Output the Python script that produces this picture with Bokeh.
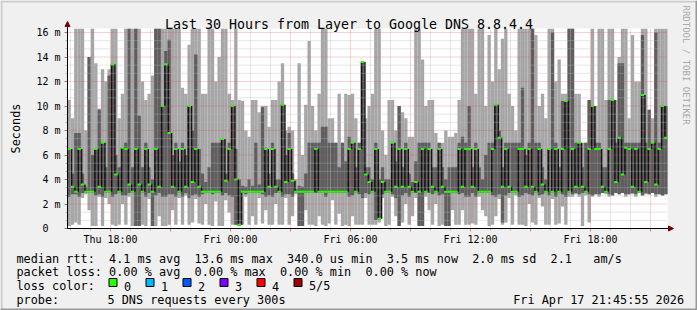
from math import pi
from bokeh.plotting import figure
from bokeh.models import (FixedTicker, Arrow, NormalHead, ColumnDataSource, Range1d,
                          LinearAxis)
from bokeh.core.properties import value
from bokeh.embed import file_html
from bokeh.resources import INLINE

# ---------------- data (ms), 10-minute bins starting Thu 15:51 ----------------
start_hour = 15.85          # hours since Thu 00:00 at the left edge of the graph
bin_hours = 1 / 6
span_hours = 30

median_ms = [
    6.5,3.4,3.0,6.5,3.6,3.0,3.0,3.0,6.5,3.4, 7.0,3.0,3.0,13.4,4.4,3.0,6.6,6.5,3.6,3.0,
    6.5,3.6,3.0,6.5,3.6,3.0,6.5,3.4,10.0,13.4,
    7.8,3.4,6.5,3.0,6.5,3.4,10.0,3.8,6.5,3.4, 3.0,3.0,3.0,3.0,3.0,3.0,7.3,3.9,6.5,10.0,
    4.0,0.3,3.0,3.0,3.0,3.0,3.0,3.0,3.0,6.5,
    3.4,6.5,3.4,3.0,10.1,3.8,6.5,3.9,3.0,3.0, 3.0,3.0,3.0,3.0,6.5,3.0,3.0,3.0,3.0,3.0,
    3.0,3.0,3.0,3.0,6.5,7.0,3.0,6.5,13.6,4.4,
    3.8,3.0,6.5,0.8,3.8,3.0,3.0,7.0,3.4,6.5, 3.4,6.5,3.4,3.0,3.8,3.0,6.5,3.0,6.5,3.4,
    3.0,6.5,3.4,3.0,3.0,3.0,3.0,6.5,3.4,6.5,
    6.5,3.4,6.5,3.0,3.0,3.0,3.0,6.5,10.1,7.4, 3.4,6.5,3.4,3.0,3.0,6.5,6.5,3.4,6.5,3.4,
    3.0,6.5,3.6,3.0,6.5,3.0,6.5,3.0,6.5,10.4,
    3.0,6.5,3.4,7.0,3.4,3.0,6.5,10.0,6.5,6.5, 3.4,3.0,6.5,10.5,3.8,7.4,4.4,6.6,6.5,3.4,
    6.5,3.0,10.9,3.8,6.5,7.0,3.6,6.5,10.0,7.4,
]
smoke_top_ms = [
    10.5,9.0,16.3,16.3,16.3,8.0,14.0,16.3,13.5,9.8, 13.0,12.0,13.0,16.3,16.3,9.0,11.0,16.3,16.3,16.3,
    16.3,16.3,12.0,10.5,11.0,12.5,16.3,16.3,16.3,16.3,
    16.3,16.3,16.3,16.3,11.5,11.0,15.0,16.3,16.3,16.3, 11.0,11.0,16.3,16.3,12.0,14.0,16.3,16.3,11.0,10.5,
    16.3,10.5,10.4,8.0,7.5,10.5,10.5,9.5,10.0,10.0,
    8.3,10.5,10.5,12.0,13.5,8.0,8.3,8.0,4.0,13.5, 6.0,10.1,15.3,10.0,8.0,11.0,16.3,16.3,9.0,9.0,
    7.0,11.0,7.0,11.0,10.9,11.0,9.0,7.0,13.6,9.0,
    10.0,11.0,16.3,16.3,8.0,6.0,10.5,10.5,8.0,10.0, 9.5,9.0,7.5,7.5,16.3,16.3,13.8,10.0,10.5,10.5,
    7.8,7.0,7.0,8.0,7.5,7.5,7.8,10.5,16.3,16.3,
    16.3,16.3,11.0,16.3,16.3,10.0,15.8,12.0,16.3,13.0, 15.5,16.3,11.0,10.0,8.0,16.3,16.3,16.3,16.3,16.3,
    15.8,10.0,11.0,9.0,16.3,16.3,12.0,13.8,11.0,11.0,
    16.3,16.3,11.0,11.0,7.0,7.0,10.5,16.3,10.0,16.3, 16.3,10.5,16.3,16.3,10.5,14.0,16.3,16.3,9.0,15.8,
    12.0,12.0,16.3,16.3,9.7,9.0,16.3,16.3,16.3,16.3,
]
smoke_bot_ms = [
    0.2,0.3,0.5,0.3,2.5,2.8,1.5,0.2,0.2,2.6, 0.2,2.5,2.0,0.3,0.2,0.3,2.0,0.3,2.6,0.2,
    0.2,0.2,0.3,0.2,2.4,0.2,0.2,1.0,0.2,0.2,
    0.3,1.5,0.3,2.5,0.3,2.7,0.3,0.5,2.4,0.4, 0.3,2.0,0.3,0.2,2.2,0.2,0.2,2.3,1.3,0.3,
    0.3,0.2,0.3,2.6,0.3,1.0,0.3,2.5,0.4,1.5,
    0.3,0.3,2.0,0.3,0.3,2.5,0.3,1.0,2.8,0.2, 0.2,1.5,0.3,0.3,0.2,1.0,0.3,0.2,0.4,2.3,
    0.3,1.2,0.2,0.3,0.2,1.0,0.3,0.3,0.3,2.5,
    0.3,0.3,0.3,0.5,2.5,0.2,0.3,2.6,1.0,0.2, 0.5,2.0,0.3,1.0,2.5,0.3,0.2,2.6,1.5,0.3,
    2.0,0.2,0.3,2.5,0.2,1.5,0.3,0.3,1.5,0.3,
    0.3,0.4,0.3,2.6,1.5,1.0,0.2,0.3,1.0,2.4, 0.3,0.5,2.5,0.3,2.7,0.3,0.3,0.2,2.0,0.5,
    0.3,2.5,1.8,0.3,0.3,2.4,0.3,0.4,1.8,0.3,
    2.6,2.6,2.8,2.6,0.2,2.7,0.5,2.6,2.8,2.6, 2.9,2.8,2.6,2.7,2.9,2.8,2.9,2.6,2.8,2.8,
    2.6,2.9,2.7,2.8,2.8,2.9,2.6,2.8,2.7,2.8,
]
core_top_ms = [
    6.5,4.5,7.8,7.8,4.5,3.4,14.0,6.0,6.5,9.7, 7.0,5.0,12.5,13.4,6.0,5.0,6.6,7.0,16.3,5.0,
    16.3,9.2,5.0,7.0,5.0,4.0,16.3,16.3,10.0,14.5,
    15.4,6.0,7.0,5.5,7.0,6.0,10.0,8.0,14.2,6.5, 4.5,3.8,5.0,7.0,7.0,7.0,7.3,4.5,7.0,10.0,
    6.5,4.0,3.5,3.4,4.0,3.5,7.0,3.6,9.9,6.6,
    4.5,7.0,4.0,4.0,10.1,6.0,7.8,4.5,3.2,3.5, 3.4,4.5,7.0,7.0,7.0,7.0,8.3,8.3,7.0,7.0,
    7.0,5.0,7.0,5.5,7.5,7.0,5.0,7.0,13.6,5.0,
    5.0,4.0,7.0,4.0,5.0,4.0,4.0,7.0,5.5,10.0, 5.0,7.0,4.5,3.8,5.5,7.0,7.0,7.0,7.0,5.0,
    5.0,7.0,5.0,4.0,5.0,5.0,5.0,7.0,7.5,7.0,
    10.0,5.0,7.0,5.0,4.0,6.0,7.0,7.0,10.1,8.0, 5.0,7.0,7.0,7.0,7.0,7.0,11.5,6.0,7.0,16.3,
    7.0,7.0,5.0,4.0,6.5,16.0,7.0,5.0,10.4,10.4,
    16.3,16.3,7.0,7.0,5.0,7.0,10.5,10.0,7.0,7.0, 5.0,5.0,10.5,10.5,7.0,13.5,13.5,7.0,7.0,7.0,
    7.0,7.0,15.8,7.0,9.7,7.0,16.0,7.0,10.0,10.0,
]
core_bot_ms = [
    2.6,2.8,2.8,2.6,2.9,2.9,2.9,2.9,2.7,2.8, 2.6,2.9,2.9,2.6,2.8,2.9,2.7,2.7,2.9,2.9,
    0.2,0.2,2.9,2.6,2.9,0.2,2.7,2.9,2.6,2.6,
    2.8,2.8,2.6,2.9,2.6,2.9,2.5,2.7,2.8,2.6, 2.8,2.9,2.9,2.8,2.9,2.9,2.7,2.9,2.7,2.6,
    0.3,0.2,2.9,2.8,2.9,2.9,2.9,2.9,2.8,2.6,
    2.7,2.6,2.9,2.9,2.6,2.8,2.8,2.6,2.9,0.2, 0.2,2.9,2.9,2.9,2.9,2.9,2.9,2.6,2.9,2.9,
    2.9,2.9,2.9,2.9,2.6,2.7,2.9,2.8,2.5,2.9,
    2.8,2.9,0.7,0.7,2.8,2.9,2.9,2.8,2.5,0.2, 2.7,2.9,2.6,2.9,2.9,0.2,0.2,2.9,2.9,2.8,
    2.9,2.7,2.8,0.2,0.2,2.9,2.9,2.8,2.9,2.6,
    2.6,2.9,2.6,2.9,2.9,2.9,2.9,2.7,2.6,2.8, 0.5,2.7,2.9,2.9,2.9,2.6,2.7,2.9,2.8,2.7,
    2.9,2.7,2.8,2.9,2.7,2.9,2.6,2.9,2.8,2.6,
    2.9,2.8,2.9,2.8,2.9,2.9,2.8,2.7,2.8,2.8, 2.9,2.9,2.8,2.7,2.9,2.8,2.9,2.8,2.8,2.9,
    2.8,2.9,2.7,2.9,2.8,2.9,2.8,2.8,2.7,2.8,
]

y_ticks_ms = [0, 2, 4, 6, 8, 10, 12, 14, 16]
y_tick_labels = ["0  ", "2 m", "4 m", "6 m", "8 m", "10 m", "12 m", "14 m", "16 m"]
x_label_hours = [18, 24, 30, 36, 42]
x_tick_labels = ["Thu 18:00", "Fri 00:00", "Fri 06:00", "Fri 12:00", "Fri 18:00"]

title_text = "Last 30 Hours from Layer to Google DNS 8.8.4.4"
y_title = "Seconds"
watermark = "RRDTOOL / TOBI OETIKER"
legend_lines = [
    "median rtt:  4.1 ms avg  13.6 ms max  340.0 us min  3.5 ms now  2.0 ms sd  2.1   am/s",
    "packet loss: 0.00 % avg  0.00 % max  0.00 % min  0.00 % now",
]
loss_title = "loss color:"
loss_labels = ["0", "1", "2", "3", "4", "5/5"]
loss_colors = ["#26ff00", "#00b8ff", "#0059ff", "#7e00ff", "#ff0000", "#a10000"]
probe_title = "probe:"
probe_text = "5 DNS requests every 300s"
stamp = "Fri Apr 17 21:45:55 2026"

# ---------------- layout (pixel geometry of the rrdtool canvas) ----------------
W, H = 697, 310
FL, FR, FT, FB = 67, 667, 28, 228
px_per_ms = 12.25
y_top = (FB - FT) / px_per_ms
end_hour = start_hour + span_hours
MONO = "DejaVu Sans Mono"
NB = "\u00a0"


def sx(px):
    return start_hour + (px - FL) * span_hours / (FR - FL)


def sy(py):
    return (FB - py) / px_per_ms


p = figure(width=W, height=H, output_backend="svg", toolbar_location=None,
           x_range=Range1d(sx(0), sx(W)), y_range=Range1d(sy(H), sy(0)),
           x_axis_location=None, y_axis_location=None,
           min_border_left=0, min_border_right=0, min_border_top=0, min_border_bottom=0,
           background_fill_color="#f0f0f0", border_fill_color="#f0f0f0",
           outline_line_color=None)
p.title.visible = False
p.grid.visible = False

# canvas frame (light top/left, dark bottom/right)
p.quad(left=[sx(0), sx(0), sx(0), sx(W - 2)], right=[sx(W), sx(2), sx(W), sx(W)],
       top=[sy(0), sy(0), sy(H - 2), sy(0)], bottom=[sy(2), sy(H), sy(H), sy(H)],
       fill_color=["#cbcbcb", "#cbcbcb", "#999999", "#999999"], line_color=None)

# white graph canvas
p.quad(left=[start_hour], right=[end_hour], bottom=[0], top=[y_top],
       fill_color="#ffffff", line_color=None)

n = len(median_ms)
left = [start_hour + i * bin_hours for i in range(n)]
right = [l + bin_hours for l in left]
prev = [median_ms[0]] + median_ms[:-1]
step_lo = [min(a, b) for a, b in zip(prev, median_ms)]
step_hi = [max(a, b) for a, b in zip(prev, median_ms)]
step_right = [l + bin_hours * 0.45 for l in left]

src = ColumnDataSource(dict(left=left, right=right, step_right=step_right,
                            smoke_top=smoke_top_ms, smoke_bot=smoke_bot_ms,
                            core_top=core_top_ms, core_bot=core_bot_ms,
                            med=median_ms, step_lo=step_lo, step_hi=step_hi))

p.quad(left="left", right="right", bottom="smoke_bot", top="smoke_top", source=src,
       fill_color="#a6a6a6", line_color=None)
p.quad(left="left", right="right", bottom="core_bot", top="core_top", source=src,
       fill_color="#5e5e5e", line_color=None)
p.quad(left="left", right="step_right", bottom="step_lo", top="step_hi", source=src,
       fill_color="#111111", line_color=None)
p.segment(x0="left", x1="right", y0="med", y1="med", source=src,
          line_color=loss_colors[0], line_width=2, line_cap="butt")

# ---------------- grid (drawn over the data, like rrdtool) ----------------
hours_all = list(range(16, 46))
major3 = [h for h in hours_all if h % 3 == 0]
minor1 = [h for h in hours_all if h % 3 != 0]
y_minor = [k * 2 / 3 for k in range(1, 25) if k % 3 != 0]
y_major = y_ticks_ms[1:]

p.segment(x0=minor1, x1=minor1, y0=[0] * len(minor1), y1=[y_top] * len(minor1),
          line_color="#b8b8b8", line_alpha=0.7, line_dash="1 1", line_width=1)
p.segment(x0=[start_hour] * len(y_minor), x1=[end_hour] * len(y_minor), y0=y_minor,
          y1=y_minor, line_color="#b8b8b8", line_alpha=0.7, line_dash="1 1", line_width=1)
p.segment(x0=major3, x1=major3, y0=[0] * len(major3), y1=[y_top] * len(major3),
          line_color="#e05050", line_alpha=0.5, line_dash="1 1", line_width=1)
p.segment(x0=[start_hour] * len(y_major), x1=[end_hour] * len(y_major), y0=y_major,
          y1=y_major, line_color="#e05050", line_alpha=0.5, line_dash="1 1", line_width=1)

# ---------------- axes ----------------
xlab = dict(zip(x_label_hours, x_tick_labels))
xaxis = LinearAxis(fixed_location=0, bounds=(start_hour, end_hour),
                   ticker=FixedTicker(ticks=major3, minor_ticks=minor1),
                   major_label_overrides={h: xlab.get(h, "") for h in major3})
yaxis = LinearAxis(fixed_location=start_hour, bounds=(0, y_top),
                   ticker=FixedTicker(ticks=y_ticks_ms, minor_ticks=y_minor),
                   major_label_overrides={t: s.replace(" ", NB)
                                          for t, s in zip(y_ticks_ms, y_tick_labels)})
for ax in (xaxis, yaxis):
    ax.axis_line_color = "#000000"
    ax.major_label_text_font = MONO
    ax.major_label_text_font_size = "10px"
    ax.major_label_text_color = "#000000"
    ax.major_tick_in = 0
    ax.major_tick_out = 3
    ax.minor_tick_in = 0
    ax.minor_tick_out = 2
    ax.minor_tick_line_color = "#b0b0b0"
xaxis.major_tick_line_color = "#e08080"
yaxis.major_tick_line_color = "#808080"
xaxis.major_label_standoff = 2
yaxis.major_label_standoff = 4
p.add_layout(xaxis, "below")
p.add_layout(yaxis, "left")

arrow_col = "#7f0000"
p.add_layout(Arrow(end=NormalHead(size=5, fill_color=arrow_col, line_color=arrow_col),
                   x_start=start_hour, y_start=0, x_end=start_hour, y_end=sy(21),
                   line_color="#000000", line_width=1))
p.add_layout(Arrow(end=NormalHead(size=5, fill_color=arrow_col, line_color=arrow_col),
                   x_start=start_hour, y_start=0, x_end=sx(673), y_end=0,
                   line_color="#000000", line_width=1))

# ---------------- texts ----------------
def lab(px, py, text, size="11.83px", align="left", angle=0.0, color="#000000"):
    p.text(x=[sx(px)], y=[sy(py)], text=[text.replace(" ", NB)], text_font=value(MONO),
           text_font_size=value(size), text_align=align, text_baseline="alphabetic",
           angle=angle, text_color=color)


lab(348.5, 24, title_text, size="13.3px", align="center")
lab(15.5, 128, y_title, align="center", angle=pi / 2)
lab(685, 5, watermark, size="9px", align="left", angle=-pi / 2, color="#a8a8a8")

for k, line in enumerate(legend_lines):
    lab(16, 258.0 + 13.7 * k, line)
lab(16, 285.5, loss_title)
sq_left = [108.5 + 37 * k for k in range(len(loss_labels))]
p.quad(left=[sx(x0) for x0 in sq_left], right=[sx(x0 + 8) for x0 in sq_left],
       top=[sy(278)] * len(sq_left), bottom=[sy(286)] * len(sq_left),
       fill_color=loss_colors, line_color="#000000", line_width=1)
for x0, txt in zip(sq_left, loss_labels):
    lab(x0 + 15.0, 285.5, txt)
lab(16, 299.2, probe_title)
lab(107, 299.2, probe_text)
lab(512.7, 299.2, stamp)

open("out.html", "w").write(file_html(p, INLINE))
